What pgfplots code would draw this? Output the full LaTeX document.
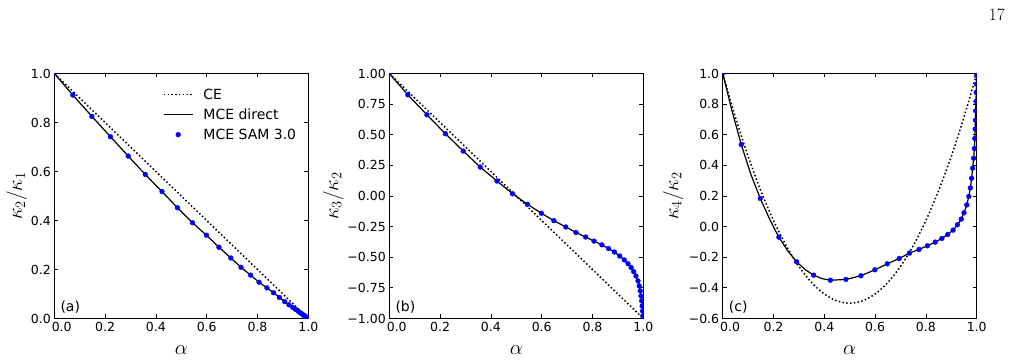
\documentclass[border=0pt]{standalone}
\usepackage{fontspec}
\setmainfont{DejaVu Sans}
\usepackage{pgfplots}
\pgfplotsset{compat=1.18}
\newcommand{\tickfont}{\fontsize{12.5}{14}\selectfont}
\newcommand{\legfont}{\fontsize{14}{16}\selectfont}
\newcommand{\labfont}{\fontsize{20.74}{22}\selectfont}
\pgfplotsset{
  panel/.style={
    scale only axis, width=254pt, height=245pt,
    xmin=0, xmax=1,
    tick align=inside, major tick length=4pt,
    xtick={0,0.2,0.4,0.6,0.8,1},
    xticklabels={{\makebox[0pt][l]{\hspace*{-2.5pt}0.0}},0.2,0.4,0.6,0.8,1.0},
    ticklabel style={font=\tickfont},
    every tick/.style={black, line width=0.8pt},
    axis line style={line width=0.8pt},
    xlabel={$\alpha$},
    xlabel style={font=\labfont, at={(axis description cs:0.5,-0.128)}, anchor=center},
    ylabel style={font=\labfont, anchor=center},
    clip marker paths=true,
    legend image code/.code={\draw[mark repeat=2,mark phase=2,##1] plot coordinates {(0pt,0pt) (14.5pt,0pt) (29pt,0pt)};},
  },
  ce/.style={black, line width=1.5pt, dash pattern=on 1.5pt off 2.3pt, no marks},
  mce/.style={black, line width=1.2pt, no marks},
  sam/.style={only marks, mark=*, mark size=2.4pt, blue, mark options={draw=blue, fill=blue, solid}},
}
\begin{document}
\begin{tikzpicture}
\useasboundingbox (0,0) rectangle (1011pt,361pt);
\node[anchor=north east, inner sep=0pt] at (1005pt,352pt) {\fontsize{17}{17}\selectfont$17$};

% ---------------- (a)
\begin{axis}[panel, at={(54.3pt,42.5pt)}, anchor=south west,
  ymin=0, ymax=1,
  ytick={0,0.2,0.4,0.6,0.8,1},
  yticklabels={0.0,0.2,0.4,0.6,0.8,1.0},
  ylabel={$\kappa_2/\kappa_1$},
  ylabel style={at={(axis description cs:-0.148,0.5)}},
  legend cell align=left,
  legend style={draw=none, fill=none, font=\legfont, at={(axis description cs:0.427,0.947)}, anchor=north west, inner sep=0pt, row sep=4pt, /tikz/every odd column/.append style={column sep=8pt}},
]
\addplot[ce] coordinates {(0,1) (1,0)};
\addlegendentry{CE}
\addplot[mce] coordinates {(0,1) (0.073,0.912) (0.148,0.825) (0.221,0.742) (0.291,0.663) (0.358,0.588) (0.424,0.518) (0.485,0.452) (0.544,0.391) (0.599,0.340) (0.648,0.291) (0.695,0.247) (0.735,0.209) (0.773,0.177) (0.806,0.148) (0.837,0.125) (0.863,0.105) (0.886,0.086) (0.907,0.069) (0.924,0.056) (0.939,0.045) (0.950,0.037) (0.961,0.029) (0.969,0.023) (0.975,0.0185) (0.980,0.0148) (0.984,0.0118) (0.988,0.0088) (0.991,0.0066) (0.9935,0.0048) (0.996,0.003) (0.998,0.0015) (0.9995,0.0004) (1,0)};
\addlegendentry{MCE direct}
\addplot[sam] coordinates {(0,1) (0.073,0.912) (0.148,0.825) (0.221,0.742) (0.291,0.663) (0.358,0.588) (0.424,0.518) (0.485,0.452) (0.544,0.391) (0.599,0.340) (0.648,0.291) (0.695,0.247) (0.735,0.209) (0.773,0.177) (0.806,0.148) (0.837,0.125) (0.863,0.105) (0.886,0.086) (0.907,0.069) (0.924,0.056) (0.939,0.045) (0.950,0.037) (0.961,0.029) (0.969,0.023) (0.975,0.0185) (0.980,0.0148) (0.984,0.0118) (0.988,0.0088) (0.991,0.0066) (0.9935,0.0048) (0.996,0.003) (0.998,0.0015) (0.9995,0.0004)};
\addlegendentry{MCE SAM 3.0}
\node[anchor=base west, inner sep=0pt, font=\legfont] at ([xshift=6pt,yshift=7pt]rel axis cs:0,0) {(a)};
\node[anchor=base west, inner sep=0pt, font=\legfont] at ([xshift=6pt,yshift=4pt]rel axis cs:0,1) {ideal gas};
\end{axis}

% ---------------- (b)
\begin{axis}[panel, at={(389.3pt,42.5pt)}, anchor=south west,
  ymin=-1, ymax=1,
  ytick={-1,-0.75,-0.5,-0.25,0,0.25,0.5,0.75,1},
  yticklabels={−1.00,−0.75,−0.50,−0.25,0.00,0.25,0.50,0.75,1.00},
  ylabel={$\kappa_3/\kappa_2$},
  ylabel style={at={(axis description cs:-0.221,0.5)}},
]
\addplot[ce] coordinates {(0,1) (1,-1)};
\addplot[mce] coordinates {(0,1) (0.073,0.826) (0.148,0.663) (0.221,0.508) (0.291,0.367) (0.358,0.236) (0.424,0.122) (0.485,0.019) (0.544,-0.068) (0.599,-0.141) (0.648,-0.201) (0.695,-0.253) (0.735,-0.298) (0.773,-0.335) (0.806,-0.368) (0.837,-0.399) (0.863,-0.429) (0.886,-0.457) (0.907,-0.490) (0.925,-0.522) (0.940,-0.553) (0.952,-0.584) (0.962,-0.617) (0.971,-0.653) (0.979,-0.693) (0.984,-0.734) (0.988,-0.775) (0.991,-0.816) (0.9935,-0.856) (0.9955,-0.897) (0.997,-0.938) (0.998,-0.979) (1,-1)};
\addplot[sam] coordinates {(0,1) (0.073,0.826) (0.148,0.663) (0.221,0.508) (0.291,0.367) (0.358,0.236) (0.424,0.122) (0.485,0.019) (0.544,-0.068) (0.599,-0.141) (0.648,-0.201) (0.695,-0.253) (0.735,-0.298) (0.773,-0.335) (0.806,-0.368) (0.837,-0.399) (0.863,-0.429) (0.886,-0.457) (0.907,-0.490) (0.925,-0.522) (0.940,-0.553) (0.952,-0.584) (0.962,-0.617) (0.971,-0.653) (0.979,-0.693) (0.984,-0.734) (0.988,-0.775) (0.991,-0.816) (0.9935,-0.856) (0.9955,-0.897) (0.997,-0.938) (0.998,-0.979)};
\node[anchor=base west, inner sep=0pt, font=\legfont] at ([xshift=6pt,yshift=7pt]rel axis cs:0,0) {(b)};
\end{axis}

% ---------------- (c)
\begin{axis}[panel, at={(722.7pt,42.5pt)}, anchor=south west,
  ymin=-0.6, ymax=1,
  ytick={-0.6,-0.4,-0.2,0,0.2,0.4,0.6,0.8,1},
  yticklabels={−0.6,−0.4,−0.2,0.0,0.2,0.4,0.6,0.8,1.0},
  ylabel={$\kappa_4/\kappa_2$},
  ylabel style={at={(axis description cs:-0.195,0.5)}},
]
\addplot[ce, smooth] coordinates {(0,1) (0.05,0.715) (0.1,0.46) (0.15,0.235) (0.2,0.04) (0.25,-0.125) (0.3,-0.26) (0.35,-0.365) (0.4,-0.44) (0.45,-0.485) (0.5,-0.5) (0.55,-0.485) (0.6,-0.44) (0.65,-0.365) (0.7,-0.26) (0.75,-0.125) (0.8,0.04) (0.85,0.235) (0.9,0.46) (0.95,0.715) (1,1)};
\addplot[mce] coordinates {(0,1) (0.036,0.76) (0.073,0.536) (0.11,0.345) (0.148,0.184) (0.185,0.048) (0.221,-0.069) (0.256,-0.158) (0.291,-0.230) (0.325,-0.281) (0.358,-0.317) (0.39,-0.339) (0.424,-0.350) (0.485,-0.345) (0.544,-0.321) (0.599,-0.282) (0.648,-0.243) (0.695,-0.208) (0.735,-0.173) (0.773,-0.149) (0.806,-0.125) (0.837,-0.101) (0.863,-0.077) (0.886,-0.051) (0.907,-0.023) (0.924,0.012) (0.939,0.049) (0.950,0.090) (0.961,0.142) (0.969,0.197) (0.975,0.253) (0.980,0.316) (0.984,0.382) (0.988,0.447) (0.991,0.510) (0.9925,0.576) (0.994,0.637) (0.995,0.695) (0.996,0.756) (0.997,0.817) (0.998,0.876) (0.999,0.930) (0.9995,0.985) (1,1)};
\addplot[sam] coordinates {(0,1) (0.073,0.536) (0.148,0.184) (0.221,-0.069) (0.291,-0.230) (0.358,-0.317) (0.424,-0.350) (0.485,-0.345) (0.544,-0.321) (0.599,-0.282) (0.648,-0.243) (0.695,-0.208) (0.735,-0.173) (0.773,-0.149) (0.806,-0.125) (0.837,-0.101) (0.863,-0.077) (0.886,-0.051) (0.907,-0.023) (0.924,0.012) (0.939,0.049) (0.950,0.090) (0.961,0.142) (0.969,0.197) (0.975,0.253) (0.980,0.316) (0.984,0.382) (0.988,0.447) (0.991,0.510) (0.9925,0.576) (0.994,0.637) (0.995,0.695) (0.996,0.756) (0.997,0.817) (0.998,0.876) (0.999,0.930) (0.9995,0.985)};
\node[anchor=base west, inner sep=0pt, font=\legfont] at ([xshift=6pt,yshift=7pt]rel axis cs:0,0) {(c)};
\end{axis}
\end{tikzpicture}
\end{document}
